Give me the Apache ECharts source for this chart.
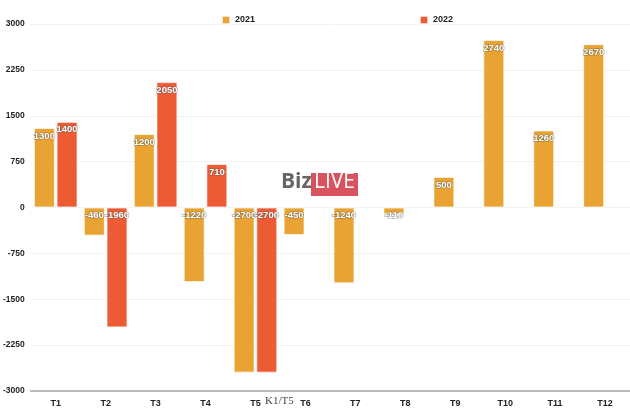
<!DOCTYPE html>
<html>
<head>
<meta charset="utf-8">
<script src="https://cdn.jsdelivr.net/npm/echarts@6/dist/echarts.min.js"></script>
<style>
  html, body { margin: 0; padding: 0; background: #fff; }
  #chart { width: 630px; height: 413px; }
</style>
</head>
<body>
<div id="chart"></div>
<script>
// du lieu
const months = ['T1', 'T2', 'T3', 'T4', 'T5', 'T6', 'T7', 'T8', 'T9', 'T10', 'T11', 'T12']
const values2021 = [1300, -460, 1200, -1220, -2700, -450, -1240, -110, 500, 2740, 1260, 2670]
const values2022 = [1400, -1960, 2050, 710, -2700, null, null, null, null, null, null, null]
const yTicks = { min: -3000, max: 3000, step: 750 }

const barLabel = {
  show: true,
  position: 'insideTop',
  distance: 3,
  color: '#fff',
  fontSize: 9.5,
  fontWeight: 'bold',
  fontFamily: 'Liberation Sans, Arial, sans-serif',
  textBorderColor: 'rgba(90,90,90,0.6)',
  textBorderWidth: 1.2
}

let myChart = echarts.init(document.getElementById('chart'))
myChart.setOption({
  animation: false,
  color: ['#E8A332', '#EC5B34'],
  legend: {
    left: 216,
    top: 10,
    itemWidth: 8,
    itemHeight: 8,
    itemGap: 164,
    icon: 'rect',
    textStyle: {
      fontSize: 9,
      fontWeight: 'bold',
      color: '#222',
      fontFamily: 'Liberation Sans, Arial, sans-serif'
    }
  },
  grid: { left: 30, right: -5, top: 24, bottom: 22 },
  xAxis: {
    type: 'category',
    data: months,
    axisLine: { onZero: false, lineStyle: { color: '#bbb', width: 2 } },
    axisTick: { show: false },
    axisLabel: {
      margin: 8,
      fontSize: 9,
      fontWeight: 'bold',
      color: '#222',
      fontFamily: 'Liberation Sans, Arial, sans-serif'
    }
  },
  yAxis: {
    type: 'value',
    min: yTicks.min,
    max: yTicks.max,
    interval: yTicks.step,
    axisLine: { show: false },
    axisTick: { show: false },
    splitLine: { lineStyle: { color: '#f2f2f2' } },
    axisLabel: {
      margin: 6,
      fontSize: 8.5,
      fontWeight: 'bold',
      color: '#222',
      fontFamily: 'Liberation Sans, Arial, sans-serif',
      formatter: v => String(v)
    }
  },
  graphic: [
    {
      type: 'text',
      left: 281,
      top: 172,
      style: { text: 'Biz', fontSize: 21, fontWeight: 'bold', fill: '#666', fontFamily: 'Open Sans, sans-serif' }
    },
    {
      type: 'rect',
      left: 311,
      top: 173,
      shape: { width: 47, height: 23 },
      style: { fill: '#D9535E' }
    },
    {
      type: 'text',
      left: 314,
      top: 172,
      style: { text: 'LIVE', fontSize: 21, fill: '#fff', fontFamily: 'Open Sans, sans-serif' }
    },
    {
      type: 'text',
      left: 265,
      top: 396,
      style: { text: 'K1/T5', fontSize: 11, fill: '#444', fontFamily: 'Liberation Serif, serif' }
    }
  ],
  series: [
    {
      name: '2021',
      type: 'bar',
      barWidth: 21,
      barGap: '8%',
      itemStyle: { borderColor: 'rgba(255,255,255,0.7)', borderWidth: 1 },
      label: barLabel,
      data: values2021
    },
    {
      name: '2022',
      type: 'bar',
      barWidth: 21,
      itemStyle: { borderColor: 'rgba(255,255,255,0.7)', borderWidth: 1 },
      label: barLabel,
      data: values2022
    }
  ]
})
</script>
</body>
</html>
